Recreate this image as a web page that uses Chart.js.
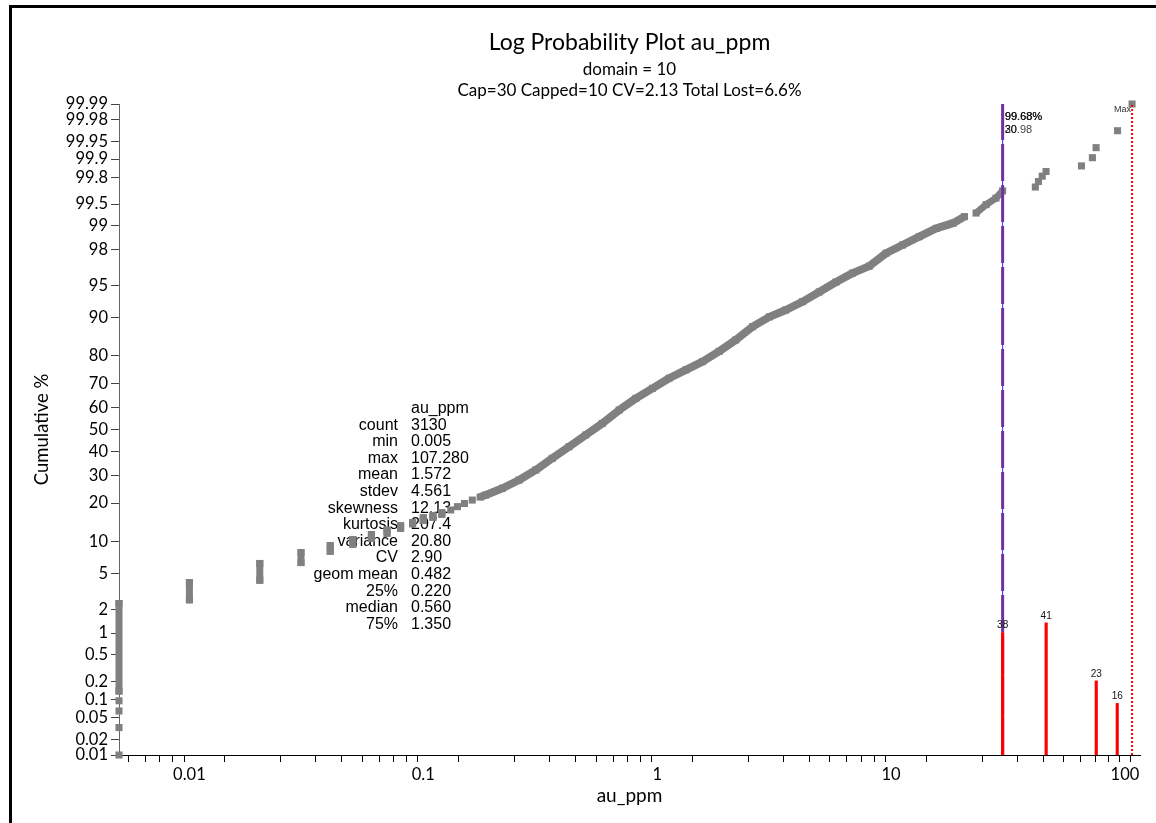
<!DOCTYPE html>
<html>
<head>
<meta charset="utf-8">
<script src="https://cdn.jsdelivr.net/npm/chart.js@4.4.1/dist/chart.umd.min.js"></script>
<style>
  html, body { margin: 0; padding: 0; background: #fff; overflow: hidden; }
  #frame { position: absolute; left: 9px; top: 5px; width: 1200px; height: 900px; border-left: 3px solid #000; border-top: 3px solid #000; }
  #plot { position: absolute; left: 0; top: 0; }
</style>
</head>
<body>
<div id="frame"></div>
<canvas id="plot" width="1156" height="823"></canvas>
<script>
// ---- data ----
const titleText = 'Log Probability Plot au_ppm';
const subtitleLines = ['domain = 10', 'Cap=30 Capped=10 CV=2.13 Total Lost=6.6%'];

// y axis (probability scale) tick labels, in cumulative %
const yTickPct = [0.01, 0.02, 0.05, 0.1, 0.2, 0.5, 1, 2, 5, 10, 20, 30, 40, 50, 60, 70, 80, 90, 95, 98, 99, 99.5, 99.8, 99.9, 99.95, 99.98, 99.99];

// detection-limit style repeated values: vertical runs of points
const stepX = [0.005, 0.01, 0.02, 0.03, 0.04, 0.05, 0.06, 0.07, 0.08, 0.09, 0.1, 0.11, 0.12];
const stepLowPct = [0.14, 2.58, 4.26, 6.42, 8.22, 9.50, 10.71, 11.80, 12.97, 14.05, 14.92, 15.8, 16.65];
const stepHighPct = [2.34, 4.02, 6.29, 7.99, 9.25, 10.44, 11.51, 12.49, 13.55, 14.39, 15.65, 16.2, 17.05];

// lowest single samples at 0.005
const lowTailX = [0.005, 0.005, 0.005, 0.005];
const lowTailPct = [0.010, 0.033, 0.065, 0.097];

// isolated points before the dense run
const sparseX = [0.131, 0.14, 0.15, 0.162];
const sparsePct = [17.9, 18.9, 19.9, 21.0];

// dense part of the curve
const curveX = [0.175, 0.185, 0.218, 0.257, 0.303, 0.356, 0.42, 0.495, 0.583, 0.688, 0.811, 0.955, 1.125, 1.327, 1.563, 1.84, 2.17, 2.56, 3.02, 3.55, 4.19, 4.93, 5.82, 6.85, 8.07, 9.52, 11.2, 13.2, 15.6, 18.4, 20.6];
const curvePct = [22.0, 22.7, 25.1, 28.2, 32.2, 37.1, 42.2, 47.5, 52.8, 58.8, 63.9, 68.1, 72.1, 75.2, 78.1, 81.4, 84.7, 88.0, 90.1, 91.4, 92.8, 94.2, 95.4, 96.3, 96.9, 97.8, 98.25, 98.62, 98.92, 99.08, 99.25];
const curve2X = [23.1, 25.5, 28.1, 30.0];
const curve2Pct = [99.33, 99.49, 99.59, 99.68];

// samples above the cap
const tailX = [41.4, 42.7, 44.3, 46.0, 65.2, 72.6, 75.3, 93.0, 107.28];
const tailPct = [99.72, 99.77, 99.81, 99.84, 99.87, 99.905, 99.936, 99.968, 99.99];

// red count bars at the top end
const histX = [30, 46.05, 75.4, 92.7];
const histCount = [38, 41, 23, 16];

const capValue = 30;
const capLabels = ['99.68%', '20.98', '30'];
const maxValue = 107.28;

const statHeader = 'au_ppm';
const statNames = ['count', 'min', 'max', 'mean', 'stdev', 'skewness', 'kurtosis', 'variance', 'CV', 'geom mean', '25%', 'median', '75%'];
const statValues = ['3130', '0.005', '107.280', '1.572', '4.561', '12.13', '207.4', '20.80', '2.90', '0.482', '0.220', '0.560', '1.350'];

// ---- helpers ----
// inverse normal CDF (Acklam), turns cumulative % into probability-scale units
function probit(p) {
    const a = [-3.969683028665376e+01, 2.209460984245205e+02, -2.759285104469687e+02, 1.383577518672690e+02, -3.066479806614716e+01, 2.506628277459239e+00];
    const b = [-5.447609879822406e+01, 1.615858368580409e+02, -1.556989798598866e+02, 6.680131188771972e+01, -1.328068155288572e+01];
    const c = [-7.784894002430293e-03, -3.223964580411365e-01, -2.400758277161838e+00, -2.549732539343734e+00, 4.374664141464968e+00, 2.938163982698783e+00];
    const d = [7.784695709041462e-03, 3.224671290700398e-01, 2.445134137142996e+00, 3.754408661907416e+00];
    const pl = 0.02425;
    let q, r;
    if (p < pl) {
        q = Math.sqrt(-2 * Math.log(p));
        return (((((c[0] * q + c[1]) * q + c[2]) * q + c[3]) * q + c[4]) * q + c[5]) / ((((d[0] * q + d[1]) * q + d[2]) * q + d[3]) * q + 1);
    }
    if (p <= 1 - pl) {
        q = p - 0.5; r = q * q;
        return (((((a[0] * r + a[1]) * r + a[2]) * r + a[3]) * r + a[4]) * r + a[5]) * q / (((((b[0] * r + b[1]) * r + b[2]) * r + b[3]) * r + b[4]) * r + 1);
    }
    q = Math.sqrt(-2 * Math.log(1 - p));
    return -(((((c[0] * q + c[1]) * q + c[2]) * q + c[3]) * q + c[4]) * q + c[5]) / ((((d[0] * q + d[1]) * q + d[2]) * q + d[3]) * q + 1);
}
const pz = pct => probit(pct / 100);
const pairs = (xs, ps) => xs.map((x, i) => ({ x: x, y: pz(ps[i]) }));

const yMin = pz(yTickPct[0]);
const yMax = pz(yTickPct[yTickPct.length - 1]);

// vertical runs split by gaps
const stepData = [];
stepX.forEach((x, i) => {
    stepData.push({ x: x, y: pz(stepLowPct[i]) }, { x: x, y: pz(stepHighPct[i]) }, { x: x, y: null });
});

const gray = '#808080';
const pointStyle = { pointStyle: 'rect', pointRadius: 5, pointBackgroundColor: gray, pointBorderWidth: 0, clip: false };

const isPow10 = v => Math.abs(Math.log10(v) - Math.round(Math.log10(v))) < 1e-6;
const isNiceLog = v => {
    const m = v / Math.pow(10, Math.floor(Math.log10(v) + 1e-9));
    return Math.abs(m - Math.round(m)) < 1e-6 && v <= 100.0001;
};

const annotate = {
    id: 'annotate',
    beforeDatasetsDraw(chart) {
        const ctx = chart.ctx;
        const area = chart.chartArea;
        const cx = (area.left + area.right) / 2;
        ctx.save();
        ctx.fillStyle = '#000';
        ctx.textAlign = 'center';
        ctx.textBaseline = 'alphabetic';
        ctx.font = '23px Lato';
        ctx.fillText(titleText, cx, 50);
        ctx.font = '17px Lato';
        ctx.fillText(subtitleLines[0], cx, 75);
        ctx.fillText(subtitleLines[1], cx, 96);

        // summary statistics block
        ctx.font = '16px "Liberation Sans", Arial, sans-serif';
        ctx.textBaseline = 'middle';
        ctx.textAlign = 'left';
        ctx.fillText(statHeader, 411, 408.5);
        statNames.forEach((name, i) => {
            const y = 408.5 + (i + 1) * 16.6;
            ctx.textAlign = 'right';
            ctx.fillText(name, 398, y);
            ctx.textAlign = 'left';
            ctx.fillText(statValues[i], 411, y);
        });
        ctx.restore();
    },
    afterDatasetsDraw(chart) {
        const ctx = chart.ctx;
        const area = chart.chartArea;
        const xs = chart.scales.x;
        ctx.save();
        ctx.textBaseline = 'middle';

        // cap labels (drawn on top of each other like the original)
        const capPx = xs.getPixelForValue(capValue);
        ctx.font = '11px "Liberation Sans", Arial, sans-serif';
        ctx.textAlign = 'left';
        ctx.fillStyle = '#111';
        ctx.fillText(capLabels[0], capPx + 2, area.top + 13);
        ctx.fillText(capLabels[0], capPx + 2.4, area.top + 13);
        ctx.fillStyle = '#444';
        ctx.fillText(capLabels[1], capPx + 2, area.top + 26);
        ctx.fillStyle = '#111';
        ctx.fillText(capLabels[2], capPx + 2, area.top + 26);

        // max label
        const maxPx = xs.getPixelForValue(maxValue);
        ctx.font = '9px "Liberation Sans", Arial, sans-serif';
        ctx.textAlign = 'right';
        ctx.fillStyle = '#333';
        ctx.fillText('Max', maxPx - 1, area.top + 6);

        // counts above the red bars
        const meta = chart.getDatasetMeta(chart.data.datasets.findIndex(d => d.label === 'counts'));
        ctx.font = '10px "Liberation Sans", Arial, sans-serif';
        ctx.textAlign = 'center';
        ctx.fillStyle = '#111';
        meta.data.forEach((el, i) => {
            ctx.fillText(String(histCount[i]), el.x, el.y - 7);
        });
        ctx.restore();
    }
};

Chart.defaults.font.family = 'Lato';
Chart.defaults.color = '#000';

new Chart(document.getElementById('plot'), {
    type: 'scatter',
    data: {
        datasets: [
            {
                type: 'bar', label: 'counts', yAxisID: 'y2',
                data: histX.map((x, i) => ({ x: x, y: histCount[i] })),
                backgroundColor: '#ff0000', barThickness: 2.5, order: -1
            },
            {
                label: 'cap', data: [{ x: capValue, y: yMin }, { x: capValue, y: yMax }],
                showLine: true, borderColor: '#7030A0', borderWidth: 3, borderDash: [37, 4],
                pointRadius: 0, order: 0
            },
            {
                label: 'capBase', data: [{ x: capValue, y: yMin }, { x: capValue, y: yMax }],
                showLine: true, borderColor: '#2a2aff', borderWidth: 1,
                pointRadius: 0, order: 1
            },
            {
                label: 'max', data: [{ x: maxValue, y: yMin }, { x: maxValue, y: yMax }],
                showLine: true, borderColor: '#ff0000', borderWidth: 2, borderDash: [2, 2],
                pointRadius: 0, order: 2
            },
            Object.assign({ label: 'steps', data: stepData, showLine: true, spanGaps: false, borderColor: gray, borderWidth: 7, borderCapStyle: 'square', order: 4 }, pointStyle),
            Object.assign({ label: 'lowTail', data: pairs(lowTailX, lowTailPct), order: 4 }, pointStyle),
            Object.assign({ label: 'sparse', data: pairs(sparseX, sparsePct), order: 4 }, pointStyle),
            Object.assign({ label: 'curve', data: pairs(curveX, curvePct), showLine: true, borderColor: gray, borderWidth: 8, borderJoinStyle: 'round', order: 4 }, pointStyle),
            Object.assign({ label: 'curve2', data: pairs(curve2X, curve2Pct), showLine: true, borderColor: gray, borderWidth: 7, order: 4 }, pointStyle),
            Object.assign({ label: 'tail', data: pairs(tailX, tailPct), order: 4 }, pointStyle)
        ]
    },
    options: {
        responsive: false,
        animation: false,
        events: [],
        layout: { padding: { left: 0, top: 104, right: 16, bottom: 0 } },
        scales: {
            x: {
                type: 'logarithmic',
                min: 0.005,
                max: 116,
                offset: false,
                border: { color: '#000', width: 1 },
                grid: { display: true, drawOnChartArea: false, drawTicks: true, tickLength: 7, color: '#000' },
                ticks: {
                    autoSkip: false, maxRotation: 0, padding: 3, color: '#000',
                    font: { size: 16.5 },
                    callback: v => isPow10(v) ? String(Number(v.toPrecision(6))) : ''
                },
                afterBuildTicks: scale => {
                    scale.ticks = scale.ticks.filter(t => isNiceLog(t.value));
                },
                afterFit: scale => { scale.height = 68; },
                title: { display: true, text: 'au_ppm', font: { size: 19 }, padding: { top: 0, bottom: 16 } }
            },
            y: {
                type: 'linear',
                min: yMin,
                max: yMax,
                border: { color: '#666', width: 1 },
                grid: { display: true, drawOnChartArea: false, drawTicks: true, tickLength: 8, color: '#444' },
                afterBuildTicks: scale => {
                    scale.ticks = yTickPct.map(p => ({ value: pz(p) }));
                },
                ticks: {
                    autoSkip: false, padding: 3, color: '#000',
                    font: { size: 16.5 },
                    callback: (v, i) => String(yTickPct[i])
                },
                afterFit: scale => { scale.width = 119; },
                title: { display: true, text: 'Cumulative %', font: { size: 18.5 }, padding: { top: 31, bottom: 0 } }
            },
            y2: { type: 'linear', min: 0, max: 202, display: false }
        },
        plugins: {
            legend: { display: false },
            tooltip: { enabled: false }
        }
    },
    plugins: [annotate]
});
</script>
</body>
</html>
